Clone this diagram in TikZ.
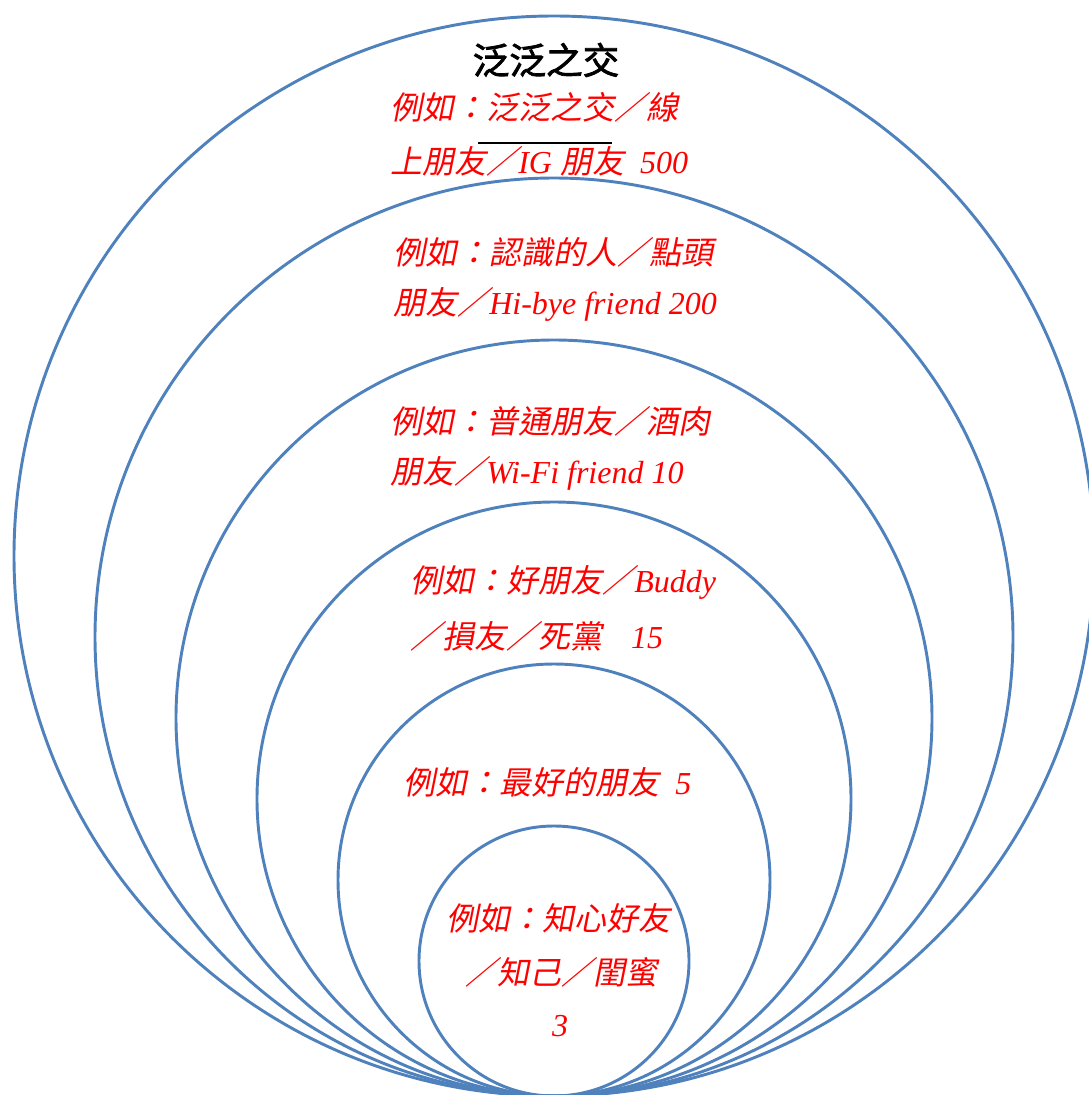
\documentclass[tikz,border=0pt]{standalone}
\usepackage{fontspec}
\setmainfont{Liberation Serif}
\newfontfamily\cjk[FakeSlant=0.2]{Noto Sans CJK TC}
\newfontfamily\cjktitle[FakeBold=2]{Noto Sans CJK TC}
\newcommand{\zh}[1]{{\cjk #1}}
\definecolor{ringblue}{HTML}{4F81BD}
\tikzset{
    ring/.style={draw=ringblue, line width=2.2pt},
    lbl/.style={anchor=west, inner sep=0pt, text=red, font=\fontsize{24}{28}\selectfont\itshape},
    lblc/.style={lbl, anchor=center},
    ttl/.style={inner sep=0pt, font=\fontsize{27.5}{32}\selectfont\cjktitle}
}

\begin{document}
\begin{tikzpicture}[x=0.75pt, y=-0.75pt]
    \useasboundingbox (0, 0) rectangle (1088, 1095);
    % rings, all touching at the bottom
    \foreach \r in {540, 459, 378, 297, 216, 135}
        \draw[ring] (554, 1096-\r) circle [radius=\r];
    \node[ttl] (t) at (546, 60) {泛泛之交};
    \node[lbl] (a1) at (390, 107) {\zh{例如：泛泛之交／線}};
    \node[lbl] (a2) at (390, 161) {\zh{上朋友／}IG \zh{朋友}\hspace{0.5em}500};
    \coordinate (u1) at (478, 143);
    \coordinate (u2) at (612, 143);
    \draw[line width=1.5pt] (u1) -- (u2);
    \node[lbl] (b1) at (393, 252) {\zh{例如：認識的人／點頭}};
    \node[lbl] (b2) at (393, 304) {\zh{朋友／}Hi-bye friend 200};
    \node[lbl] (c1) at (390, 421) {\zh{例如：普通朋友／酒肉}};
    \node[lbl] (c2) at (390, 473) {\zh{朋友／}Wi-Fi friend 10};
    \node[lbl] (d1) at (410, 582) {\zh{例如：好朋友／}Buddy};
    \node[lbl] (d2) at (410, 636) {\zh{／損友／死黨}\hspace{0.9em}15};
    \node[lbl] (e1) at (403, 782) {\zh{例如：最好的朋友}\hspace{0.5em}5};
    \node[lblc] (f1) at (558, 918) {\zh{例如：知心好友}};
    \node[lblc] (f2) at (561, 972) {\zh{／知己／閨蜜}};
    \node[lblc] (f3) at (560, 1026) {3};
\end{tikzpicture}
\end{document}
